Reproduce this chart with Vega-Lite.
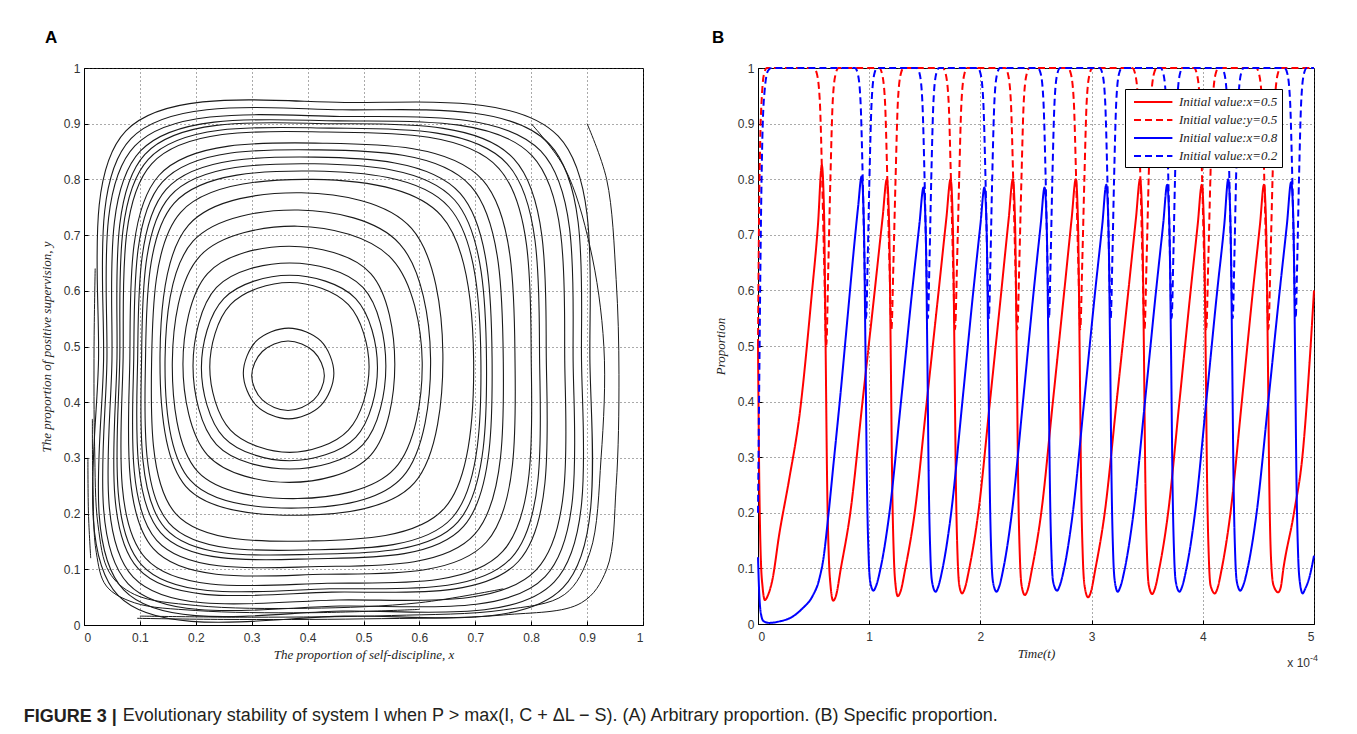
{
"$schema": "https://vega.github.io/schema/vega-lite/v6.json",
"background": "white",
"padding": {"left": 23, "top": 28, "right": 5, "bottom": 5},
"config": {
 "view": {"stroke": "#000", "strokeWidth": 1},
 "axis": {"domainColor": "#000", "tickColor": "#000", "tickSize": -4, "labelPadding": 8, "labelFont": "Liberation Sans", "labelFontSize": 12, "labelColor": "#333", "gridColor": "#444", "gridDash": [1, 3], "gridWidth": 1, "gridOpacity": 0.9, "titleFont": "Liberation Serif", "titleFontStyle": "italic", "titleFontWeight": "normal", "titleFontSize": 13, "titleColor": "#222"},
 "axisX": {"labelPadding": 11}
},
"datasets": {
 "rings": [
  {"r":1,"i":1,"x":0.30,"y":0.4475},{"r":1,"i":2,"x":0.319,"y":0.404},{"r":1,"i":3,"x":0.365,"y":0.385},{"r":1,"i":4,"x":0.411,"y":0.404},{"r":1,"i":5,"x":0.43,"y":0.4475},{"r":1,"i":6,"x":0.411,"y":0.491},{"r":1,"i":7,"x":0.365,"y":0.51},{"r":1,"i":8,"x":0.319,"y":0.491},
  {"r":2,"i":1,"x":0.285,"y":0.452},{"r":2,"i":2,"x":0.3085,"y":0.394},{"r":2,"i":3,"x":0.366,"y":0.37},{"r":2,"i":4,"x":0.4235,"y":0.394},{"r":2,"i":5,"x":0.447,"y":0.452},{"r":2,"i":6,"x":0.4235,"y":0.51},{"r":2,"i":7,"x":0.366,"y":0.533},{"r":2,"i":8,"x":0.3085,"y":0.51},
  {"r":3,"i":1,"x":0.225,"y":0.463},{"r":3,"i":2,"x":0.262,"y":0.35},{"r":3,"i":3,"x":0.368,"y":0.31},{"r":3,"i":4,"x":0.473,"y":0.35},{"r":3,"i":5,"x":0.51,"y":0.463},{"r":3,"i":6,"x":0.473,"y":0.575},{"r":3,"i":7,"x":0.368,"y":0.615},{"r":3,"i":8,"x":0.262,"y":0.575},
  {"r":4,"i":1,"x":0.21,"y":0.462},{"r":4,"i":2,"x":0.25,"y":0.337},{"r":4,"i":3,"x":0.368,"y":0.295},{"r":4,"i":4,"x":0.486,"y":0.337},{"r":4,"i":5,"x":0.525,"y":0.462},{"r":4,"i":6,"x":0.486,"y":0.586},{"r":4,"i":7,"x":0.368,"y":0.628},{"r":4,"i":8,"x":0.25,"y":0.586},
  {"r":5,"i":1,"x":0.195,"y":0.465},{"r":5,"i":2,"x":0.237,"y":0.324},{"r":5,"i":3,"x":0.368,"y":0.28},{"r":5,"i":4,"x":0.499,"y":0.324},{"r":5,"i":5,"x":0.54,"y":0.465},{"r":5,"i":6,"x":0.499,"y":0.606},{"r":5,"i":7,"x":0.368,"y":0.65},{"r":5,"i":8,"x":0.237,"y":0.606},
  {"r":6,"i":1,"x":0.177,"y":0.468},{"r":6,"i":2,"x":0.221,"y":0.305},{"r":6,"i":3,"x":0.367,"y":0.256},{"r":6,"i":4,"x":0.513,"y":0.305},{"r":6,"i":5,"x":0.556,"y":0.468},{"r":6,"i":6,"x":0.513,"y":0.631},{"r":6,"i":7,"x":0.367,"y":0.68},{"r":6,"i":8,"x":0.221,"y":0.631},
  {"r":7,"i":1,"x":0.158,"y":0.472},{"r":7,"i":2,"x":0.203,"y":0.276},{"r":7,"i":3,"x":0.382,"y":0.227},{"r":7,"i":4,"x":0.556,"y":0.281},{"r":7,"i":5,"x":0.605,"y":0.472},{"r":7,"i":6,"x":0.551,"y":0.657},{"r":7,"i":7,"x":0.382,"y":0.716},{"r":7,"i":8,"x":0.207,"y":0.662},
  {"r":8,"i":1,"x":0.145,"y":0.478},{"r":8,"i":2,"x":0.19,"y":0.26},{"r":8,"i":3,"x":0.383,"y":0.21},{"r":8,"i":4,"x":0.57,"y":0.266},{"r":8,"i":5,"x":0.62,"y":0.478},{"r":8,"i":6,"x":0.565,"y":0.684},{"r":8,"i":7,"x":0.383,"y":0.745},{"r":8,"i":8,"x":0.195,"y":0.689},
  {"r":9,"i":1,"x":0.136,"y":0.487},{"r":9,"i":2,"x":0.182,"y":0.249},{"r":9,"i":3,"x":0.389,"y":0.197},{"r":9,"i":4,"x":0.591,"y":0.255},{"r":9,"i":5,"x":0.642,"y":0.487},{"r":9,"i":6,"x":0.586,"y":0.712},{"r":9,"i":7,"x":0.389,"y":0.776},{"r":9,"i":8,"x":0.187,"y":0.718},
  {"r":10,"i":1,"x":0.121,"y":0.476},{"r":10,"i":2,"x":0.164,"y":0.2},{"r":10,"i":3,"x":0.409,"y":0.151},{"r":10,"i":4,"x":0.645,"y":0.21},{"r":10,"i":5,"x":0.697,"y":0.476},{"r":10,"i":6,"x":0.639,"y":0.735},{"r":10,"i":7,"x":0.409,"y":0.80},{"r":10,"i":8,"x":0.173,"y":0.741},
  {"r":11,"i":1,"x":0.11,"y":0.475},{"r":11,"i":2,"x":0.152,"y":0.183},{"r":11,"i":3,"x":0.41,"y":0.135},{"r":11,"i":4,"x":0.659,"y":0.193},{"r":11,"i":5,"x":0.71,"y":0.475},{"r":11,"i":6,"x":0.653,"y":0.75},{"r":11,"i":7,"x":0.41,"y":0.815},{"r":11,"i":8,"x":0.161,"y":0.757},
  {"r":12,"i":1,"x":0.096,"y":0.48},{"r":12,"i":2,"x":0.137,"y":0.166},{"r":12,"i":3,"x":0.413,"y":0.119},{"r":12,"i":4,"x":0.679,"y":0.177},{"r":12,"i":5,"x":0.73,"y":0.48},{"r":12,"i":6,"x":0.673,"y":0.775},{"r":12,"i":7,"x":0.413,"y":0.84},{"r":12,"i":8,"x":0.147,"y":0.782},
  {"r":13,"i":1,"x":0.082,"y":0.478},{"r":13,"i":2,"x":0.124,"y":0.137},{"r":13,"i":3,"x":0.427,"y":0.091},{"r":13,"i":4,"x":0.72,"y":0.149},{"r":13,"i":5,"x":0.771,"y":0.478},{"r":13,"i":6,"x":0.713,"y":0.799},{"r":13,"i":7,"x":0.427,"y":0.865},{"r":13,"i":8,"x":0.134,"y":0.807},
  {"r":14,"i":1,"x":0.07,"y":0.48},{"r":14,"i":2,"x":0.11,"y":0.12},{"r":14,"i":3,"x":0.435,"y":0.075},{"r":14,"i":4,"x":0.749,"y":0.132},{"r":14,"i":5,"x":0.80,"y":0.48},{"r":14,"i":6,"x":0.742,"y":0.82},{"r":14,"i":7,"x":0.435,"y":0.885},{"r":14,"i":8,"x":0.121,"y":0.828},
  {"r":15,"i":1,"x":0.059,"y":0.48},{"r":15,"i":2,"x":0.097,"y":0.101},{"r":15,"i":3,"x":0.443,"y":0.059},{"r":15,"i":4,"x":0.777,"y":0.114},{"r":15,"i":5,"x":0.827,"y":0.48},{"r":15,"i":6,"x":0.769,"y":0.837},{"r":15,"i":7,"x":0.443,"y":0.90},{"r":15,"i":8,"x":0.109,"y":0.845},
  {"r":16,"i":1,"x":0.05,"y":0.475},{"r":16,"i":2,"x":0.088,"y":0.086},{"r":16,"i":3,"x":0.455,"y":0.045},{"r":16,"i":4,"x":0.809,"y":0.099},{"r":16,"i":5,"x":0.86,"y":0.475},{"r":16,"i":6,"x":0.801,"y":0.843},{"r":16,"i":7,"x":0.455,"y":0.905},{"r":16,"i":8,"x":0.101,"y":0.851},
  {"r":17,"i":1,"x":0.041,"y":0.474},{"r":17,"i":2,"x":0.079,"y":0.074},{"r":17,"i":3,"x":0.458,"y":0.034},{"r":17,"i":4,"x":0.825,"y":0.087},{"r":17,"i":5,"x":0.875,"y":0.474},{"r":17,"i":6,"x":0.817,"y":0.851},{"r":17,"i":7,"x":0.458,"y":0.913},{"r":17,"i":8,"x":0.091,"y":0.86},
  {"r":18,"i":1,"x":0.026,"y":0.477},{"r":18,"i":2,"x":0.061,"y":0.053},{"r":18,"i":3,"x":0.466,"y":0.016},{"r":18,"i":4,"x":0.857,"y":0.067},{"r":18,"i":5,"x":0.905,"y":0.477},{"r":18,"i":6,"x":0.848,"y":0.878},{"r":18,"i":7,"x":0.466,"y":0.938},{"r":18,"i":8,"x":0.075,"y":0.887},
  {"r":19,"i":1,"x":0.089,"y":0.479},{"r":19,"i":2,"x":0.13,"y":0.152},{"r":19,"i":3,"x":0.42,"y":0.105},{"r":19,"i":4,"x":0.699,"y":0.163},{"r":19,"i":5,"x":0.75,"y":0.479},{"r":19,"i":6,"x":0.692,"y":0.788},{"r":19,"i":7,"x":0.42,"y":0.853},{"r":19,"i":8,"x":0.14,"y":0.795},
  {"r":20,"i":1,"x":0.035,"y":0.475},{"r":20,"i":2,"x":0.071,"y":0.063},{"r":20,"i":3,"x":0.4625,"y":0.025},{"r":20,"i":4,"x":0.841,"y":0.077},{"r":20,"i":5,"x":0.89,"y":0.475},{"r":20,"i":6,"x":0.832,"y":0.864},{"r":20,"i":7,"x":0.4625,"y":0.925},{"r":20,"i":8,"x":0.084,"y":0.873},
  {"r":21,"i":1,"x":0.064,"y":0.479},{"r":21,"i":2,"x":0.103,"y":0.108},{"r":21,"i":3,"x":0.44,"y":0.065},{"r":21,"i":4,"x":0.765,"y":0.121},{"r":21,"i":5,"x":0.815,"y":0.479},{"r":21,"i":6,"x":0.757,"y":0.828},{"r":21,"i":7,"x":0.44,"y":0.892},{"r":21,"i":8,"x":0.115,"y":0.836},
  {"r":22,"i":1,"x":0.103,"y":0.478},{"r":22,"i":2,"x":0.145,"y":0.174},{"r":22,"i":3,"x":0.412,"y":0.127},{"r":22,"i":4,"x":0.669,"y":0.185},{"r":22,"i":5,"x":0.72,"y":0.478},{"r":22,"i":6,"x":0.663,"y":0.763},{"r":22,"i":7,"x":0.412,"y":0.828},{"r":22,"i":8,"x":0.154,"y":0.77}
 ],
 "open": [
  {"r":1,"i":1,"x":0.80,"y":0.90},{"r":1,"i":2,"x":0.86,"y":0.82},{"r":1,"i":3,"x":0.905,"y":0.68},{"r":1,"i":4,"x":0.93,"y":0.50},{"r":1,"i":5,"x":0.925,"y":0.30},{"r":1,"i":6,"x":0.905,"y":0.13},{"r":1,"i":7,"x":0.86,"y":0.055},{"r":1,"i":8,"x":0.75,"y":0.027},{"r":1,"i":9,"x":0.55,"y":0.017},{"r":1,"i":10,"x":0.30,"y":0.014},{"r":1,"i":11,"x":0.10,"y":0.016},
  {"r":2,"i":1,"x":0.90,"y":0.90},{"r":2,"i":2,"x":0.935,"y":0.80},{"r":2,"i":3,"x":0.952,"y":0.62},{"r":2,"i":4,"x":0.957,"y":0.45},{"r":2,"i":5,"x":0.952,"y":0.25},{"r":2,"i":6,"x":0.935,"y":0.10},{"r":2,"i":7,"x":0.89,"y":0.04},{"r":2,"i":8,"x":0.75,"y":0.018},{"r":2,"i":9,"x":0.50,"y":0.011},{"r":2,"i":10,"x":0.25,"y":0.010},{"r":2,"i":11,"x":0.095,"y":0.012},
  {"r":3,"i":1,"x":0.02,"y":0.64},{"r":3,"i":2,"x":0.018,"y":0.50},{"r":3,"i":3,"x":0.019,"y":0.32},{"r":3,"i":4,"x":0.025,"y":0.18},{"r":3,"i":5,"x":0.045,"y":0.095},{"r":3,"i":6,"x":0.09,"y":0.055},{"r":3,"i":7,"x":0.2,"y":0.035},{"r":3,"i":8,"x":0.4,"y":0.03},{"r":3,"i":9,"x":0.6,"y":0.04},{"r":3,"i":10,"x":0.75,"y":0.065},
  {"r":4,"i":1,"x":0.015,"y":0.37},{"r":4,"i":2,"x":0.016,"y":0.25},{"r":4,"i":3,"x":0.022,"y":0.13},{"r":4,"i":4,"x":0.04,"y":0.07},{"r":4,"i":5,"x":0.09,"y":0.04},{"r":4,"i":6,"x":0.2,"y":0.026},{"r":4,"i":7,"x":0.4,"y":0.022},{"r":4,"i":8,"x":0.6,"y":0.028},
  {"r":5,"i":1,"x":0.007,"y":0.30},{"r":5,"i":2,"x":0.008,"y":0.20},{"r":5,"i":3,"x":0.012,"y":0.12}
 ],
 "ts": [
  {"s":"a","t":0,"v":0.5},{"s":"a","t":0.012,"v":0.25},{"s":"a","t":0.025,"v":0.12},{"s":"a","t":0.042,"v":0.065},{"s":"a","t":0.062,"v":0.043},{"s":"a","t":0.09,"v":0.052},{"s":"a","t":0.13,"v":0.08},{"s":"a","t":0.19,"v":0.16},{"s":"a","t":0.28,"v":0.26},{"s":"a","t":0.373,"v":0.375},{"s":"a","t":0.482,"v":0.59},{"s":"a","t":0.54,"v":0.72},{"s":"a","t":0.574,"v":0.825},{"s":"a","t":0.594,"v":0.74},{"s":"a","t":0.608,"v":0.5},{"s":"a","t":0.622,"v":0.25},{"s":"a","t":0.637,"v":0.12},{"s":"a","t":0.652,"v":0.07},{"s":"a","t":0.676,"v":0.042},
  {"s":"a","t":0.70,"v":0.05},{"s":"a","t":0.745,"v":0.10},{"s":"a","t":0.83,"v":0.20},{"s":"a","t":0.94,"v":0.40},{"s":"a","t":1.05,"v":0.60},{"s":"a","t":1.12,"v":0.73},{"s":"a","t":1.159,"v":0.80},{"s":"a","t":1.179,"v":0.72},{"s":"a","t":1.193,"v":0.50},{"s":"a","t":1.207,"v":0.25},{"s":"a","t":1.222,"v":0.12},{"s":"a","t":1.237,"v":0.07},{"s":"a","t":1.257,"v":0.05},
  {"s":"a","t":1.281,"v":0.058},{"s":"a","t":1.325,"v":0.10},{"s":"a","t":1.409,"v":0.20},{"s":"a","t":1.518,"v":0.40},{"s":"a","t":1.625,"v":0.60},{"s":"a","t":1.694,"v":0.73},{"s":"a","t":1.732,"v":0.80},{"s":"a","t":1.752,"v":0.72},{"s":"a","t":1.766,"v":0.50},{"s":"a","t":1.78,"v":0.25},{"s":"a","t":1.795,"v":0.12},{"s":"a","t":1.81,"v":0.07},{"s":"a","t":1.835,"v":0.055},
  {"s":"a","t":1.858,"v":0.063},{"s":"a","t":1.9,"v":0.10},{"s":"a","t":1.981,"v":0.20},{"s":"a","t":2.086,"v":0.40},{"s":"a","t":2.189,"v":0.60},{"s":"a","t":2.255,"v":0.73},{"s":"a","t":2.292,"v":0.80},{"s":"a","t":2.312,"v":0.72},{"s":"a","t":2.326,"v":0.50},{"s":"a","t":2.34,"v":0.25},{"s":"a","t":2.355,"v":0.12},{"s":"a","t":2.37,"v":0.07},{"s":"a","t":2.40,"v":0.052},
  {"s":"a","t":2.423,"v":0.06},{"s":"a","t":2.465,"v":0.10},{"s":"a","t":2.547,"v":0.20},{"s":"a","t":2.652,"v":0.40},{"s":"a","t":2.755,"v":0.60},{"s":"a","t":2.821,"v":0.73},{"s":"a","t":2.858,"v":0.80},{"s":"a","t":2.878,"v":0.72},{"s":"a","t":2.892,"v":0.50},{"s":"a","t":2.906,"v":0.25},{"s":"a","t":2.921,"v":0.12},{"s":"a","t":2.936,"v":0.07},{"s":"a","t":2.968,"v":0.048},
  {"s":"a","t":2.991,"v":0.056},{"s":"a","t":3.035,"v":0.10},{"s":"a","t":3.118,"v":0.20},{"s":"a","t":3.225,"v":0.40},{"s":"a","t":3.331,"v":0.60},{"s":"a","t":3.399,"v":0.73},{"s":"a","t":3.436,"v":0.80},{"s":"a","t":3.456,"v":0.72},{"s":"a","t":3.47,"v":0.50},{"s":"a","t":3.484,"v":0.25},{"s":"a","t":3.499,"v":0.12},{"s":"a","t":3.514,"v":0.07},{"s":"a","t":3.545,"v":0.054},
  {"s":"a","t":3.567,"v":0.062},{"s":"a","t":3.609,"v":0.10},{"s":"a","t":3.688,"v":0.20},{"s":"a","t":3.79,"v":0.40},{"s":"a","t":3.891,"v":0.60},{"s":"a","t":3.955,"v":0.72},{"s":"a","t":3.991,"v":0.79},{"s":"a","t":4.011,"v":0.71},{"s":"a","t":4.025,"v":0.50},{"s":"a","t":4.039,"v":0.25},{"s":"a","t":4.054,"v":0.12},{"s":"a","t":4.069,"v":0.07},{"s":"a","t":4.108,"v":0.055},
  {"s":"a","t":4.13,"v":0.063},{"s":"a","t":4.171,"v":0.10},{"s":"a","t":4.249,"v":0.20},{"s":"a","t":4.351,"v":0.40},{"s":"a","t":4.451,"v":0.60},{"s":"a","t":4.515,"v":0.72},{"s":"a","t":4.55,"v":0.79},{"s":"a","t":4.57,"v":0.71},{"s":"a","t":4.584,"v":0.50},{"s":"a","t":4.598,"v":0.25},{"s":"a","t":4.613,"v":0.12},{"s":"a","t":4.635,"v":0.07},{"s":"a","t":4.678,"v":0.057},
  {"s":"a","t":4.70,"v":0.065},{"s":"a","t":4.725,"v":0.10},{"s":"a","t":4.82,"v":0.20},{"s":"a","t":4.90,"v":0.31},{"s":"a","t":4.96,"v":0.47},{"s":"a","t":5.0,"v":0.60},

  {"s":"b","t":0,"v":0.5},{"s":"b","t":0.008,"v":0.70},{"s":"b","t":0.02,"v":0.87},{"s":"b","t":0.035,"v":0.95},{"s":"b","t":0.055,"v":0.99},{"s":"b","t":0.08,"v":1.0},
  {"s":"b","t":0.504,"v":1.0},{"s":"b","t":0.529,"v":0.99},{"s":"b","t":0.556,"v":0.94},{"s":"b","t":0.577,"v":0.80},{"s":"b","t":0.596,"v":0.64},{"s":"b","t":0.614,"v":0.50},{"s":"b","t":0.632,"v":0.64},{"s":"b","t":0.651,"v":0.80},{"s":"b","t":0.672,"v":0.94},{"s":"b","t":0.699,"v":0.99},{"s":"b","t":0.724,"v":1.0},
  {"s":"b","t":1.09,"v":1.0},{"s":"b","t":1.115,"v":0.99},{"s":"b","t":1.142,"v":0.94},{"s":"b","t":1.163,"v":0.80},{"s":"b","t":1.182,"v":0.65},{"s":"b","t":1.20,"v":0.53},{"s":"b","t":1.218,"v":0.65},{"s":"b","t":1.237,"v":0.80},{"s":"b","t":1.258,"v":0.94},{"s":"b","t":1.285,"v":0.99},{"s":"b","t":1.31,"v":1.0},
  {"s":"b","t":1.662,"v":1.0},{"s":"b","t":1.687,"v":0.99},{"s":"b","t":1.714,"v":0.94},{"s":"b","t":1.735,"v":0.80},{"s":"b","t":1.754,"v":0.65},{"s":"b","t":1.772,"v":0.53},{"s":"b","t":1.79,"v":0.65},{"s":"b","t":1.809,"v":0.80},{"s":"b","t":1.83,"v":0.94},{"s":"b","t":1.857,"v":0.99},{"s":"b","t":1.882,"v":1.0},
  {"s":"b","t":2.222,"v":1.0},{"s":"b","t":2.247,"v":0.99},{"s":"b","t":2.274,"v":0.94},{"s":"b","t":2.295,"v":0.80},{"s":"b","t":2.314,"v":0.65},{"s":"b","t":2.332,"v":0.53},{"s":"b","t":2.35,"v":0.65},{"s":"b","t":2.369,"v":0.80},{"s":"b","t":2.39,"v":0.94},{"s":"b","t":2.417,"v":0.99},{"s":"b","t":2.442,"v":1.0},
  {"s":"b","t":2.788,"v":1.0},{"s":"b","t":2.813,"v":0.99},{"s":"b","t":2.84,"v":0.94},{"s":"b","t":2.861,"v":0.80},{"s":"b","t":2.88,"v":0.65},{"s":"b","t":2.898,"v":0.53},{"s":"b","t":2.916,"v":0.65},{"s":"b","t":2.935,"v":0.80},{"s":"b","t":2.956,"v":0.94},{"s":"b","t":2.983,"v":0.99},{"s":"b","t":3.008,"v":1.0},
  {"s":"b","t":3.366,"v":1.0},{"s":"b","t":3.391,"v":0.99},{"s":"b","t":3.418,"v":0.94},{"s":"b","t":3.439,"v":0.80},{"s":"b","t":3.458,"v":0.65},{"s":"b","t":3.476,"v":0.53},{"s":"b","t":3.494,"v":0.65},{"s":"b","t":3.513,"v":0.80},{"s":"b","t":3.534,"v":0.94},{"s":"b","t":3.561,"v":0.99},{"s":"b","t":3.586,"v":1.0},
  {"s":"b","t":3.921,"v":1.0},{"s":"b","t":3.946,"v":0.99},{"s":"b","t":3.973,"v":0.94},{"s":"b","t":3.994,"v":0.80},{"s":"b","t":4.013,"v":0.65},{"s":"b","t":4.031,"v":0.53},{"s":"b","t":4.049,"v":0.65},{"s":"b","t":4.068,"v":0.80},{"s":"b","t":4.089,"v":0.94},{"s":"b","t":4.116,"v":0.99},{"s":"b","t":4.141,"v":1.0},
  {"s":"b","t":4.48,"v":1.0},{"s":"b","t":4.505,"v":0.99},{"s":"b","t":4.532,"v":0.94},{"s":"b","t":4.553,"v":0.80},{"s":"b","t":4.572,"v":0.65},{"s":"b","t":4.59,"v":0.53},{"s":"b","t":4.608,"v":0.65},{"s":"b","t":4.627,"v":0.80},{"s":"b","t":4.648,"v":0.94},{"s":"b","t":4.675,"v":0.99},{"s":"b","t":4.70,"v":1.0},
  {"s":"b","t":5.0,"v":1.0},

  {"s":"c","t":0,"v":0.12},{"s":"c","t":0.01,"v":0.06},{"s":"c","t":0.025,"v":0.02},{"s":"c","t":0.05,"v":0.005},{"s":"c","t":0.1,"v":0.002},{"s":"c","t":0.2,"v":0.005},{"s":"c","t":0.3,"v":0.012},{"s":"c","t":0.4,"v":0.028},{"s":"c","t":0.49,"v":0.05},{"s":"c","t":0.55,"v":0.08},{"s":"c","t":0.59,"v":0.12},{"s":"c","t":0.63,"v":0.19},{"s":"c","t":0.68,"v":0.29},{"s":"c","t":0.74,"v":0.41},{"s":"c","t":0.80,"v":0.54},{"s":"c","t":0.86,"v":0.67},{"s":"c","t":0.90,"v":0.75},{"s":"c","t":0.932,"v":0.805},{"s":"c","t":0.952,"v":0.72},{"s":"c","t":0.966,"v":0.50},{"s":"c","t":0.98,"v":0.25},{"s":"c","t":0.995,"v":0.12},{"s":"c","t":1.01,"v":0.075},{"s":"c","t":1.038,"v":0.06},
  {"s":"c","t":1.061,"v":0.068},{"s":"c","t":1.102,"v":0.10},{"s":"c","t":1.182,"v":0.20},{"s":"c","t":1.286,"v":0.40},{"s":"c","t":1.387,"v":0.60},{"s":"c","t":1.452,"v":0.72},{"s":"c","t":1.488,"v":0.785},{"s":"c","t":1.508,"v":0.71},{"s":"c","t":1.522,"v":0.50},{"s":"c","t":1.536,"v":0.25},{"s":"c","t":1.551,"v":0.12},{"s":"c","t":1.566,"v":0.075},{"s":"c","t":1.597,"v":0.058},
  {"s":"c","t":1.619,"v":0.066},{"s":"c","t":1.66,"v":0.10},{"s":"c","t":1.737,"v":0.20},{"s":"c","t":1.838,"v":0.40},{"s":"c","t":1.937,"v":0.60},{"s":"c","t":2.001,"v":0.72},{"s":"c","t":2.036,"v":0.785},{"s":"c","t":2.056,"v":0.71},{"s":"c","t":2.07,"v":0.50},{"s":"c","t":2.084,"v":0.25},{"s":"c","t":2.099,"v":0.12},{"s":"c","t":2.114,"v":0.075},{"s":"c","t":2.145,"v":0.058},
  {"s":"c","t":2.167,"v":0.066},{"s":"c","t":2.207,"v":0.10},{"s":"c","t":2.283,"v":0.20},{"s":"c","t":2.383,"v":0.40},{"s":"c","t":2.48,"v":0.60},{"s":"c","t":2.543,"v":0.72},{"s":"c","t":2.577,"v":0.785},{"s":"c","t":2.597,"v":0.71},{"s":"c","t":2.611,"v":0.50},{"s":"c","t":2.625,"v":0.25},{"s":"c","t":2.64,"v":0.12},{"s":"c","t":2.655,"v":0.075},{"s":"c","t":2.69,"v":0.06},
  {"s":"c","t":2.712,"v":0.068},{"s":"c","t":2.753,"v":0.10},{"s":"c","t":2.831,"v":0.20},{"s":"c","t":2.933,"v":0.40},{"s":"c","t":3.033,"v":0.60},{"s":"c","t":3.097,"v":0.72},{"s":"c","t":3.132,"v":0.79},{"s":"c","t":3.152,"v":0.71},{"s":"c","t":3.166,"v":0.50},{"s":"c","t":3.18,"v":0.25},{"s":"c","t":3.195,"v":0.12},{"s":"c","t":3.21,"v":0.075},{"s":"c","t":3.235,"v":0.058},
  {"s":"c","t":3.257,"v":0.066},{"s":"c","t":3.299,"v":0.10},{"s":"c","t":3.377,"v":0.20},{"s":"c","t":3.48,"v":0.40},{"s":"c","t":3.58,"v":0.60},{"s":"c","t":3.644,"v":0.72},{"s":"c","t":3.68,"v":0.79},{"s":"c","t":3.70,"v":0.71},{"s":"c","t":3.714,"v":0.50},{"s":"c","t":3.728,"v":0.25},{"s":"c","t":3.743,"v":0.12},{"s":"c","t":3.758,"v":0.075},{"s":"c","t":3.79,"v":0.058},
  {"s":"c","t":3.812,"v":0.066},{"s":"c","t":3.853,"v":0.10},{"s":"c","t":3.93,"v":0.20},{"s":"c","t":4.031,"v":0.40},{"s":"c","t":4.13,"v":0.60},{"s":"c","t":4.194,"v":0.72},{"s":"c","t":4.229,"v":0.80},{"s":"c","t":4.249,"v":0.72},{"s":"c","t":4.263,"v":0.50},{"s":"c","t":4.277,"v":0.25},{"s":"c","t":4.292,"v":0.12},{"s":"c","t":4.307,"v":0.075},{"s":"c","t":4.338,"v":0.06},
  {"s":"c","t":4.361,"v":0.068},{"s":"c","t":4.403,"v":0.10},{"s":"c","t":4.484,"v":0.20},{"s":"c","t":4.589,"v":0.40},{"s":"c","t":4.692,"v":0.60},{"s":"c","t":4.757,"v":0.72},{"s":"c","t":4.795,"v":0.795},{"s":"c","t":4.815,"v":0.72},{"s":"c","t":4.829,"v":0.50},{"s":"c","t":4.843,"v":0.25},{"s":"c","t":4.858,"v":0.12},{"s":"c","t":4.873,"v":0.075},{"s":"c","t":4.898,"v":0.055},
  {"s":"c","t":4.92,"v":0.063},{"s":"c","t":4.96,"v":0.085},{"s":"c","t":5.0,"v":0.123},

  {"s":"d","t":0,"v":0.2},{"s":"d","t":0.012,"v":0.45},{"s":"d","t":0.025,"v":0.70},{"s":"d","t":0.04,"v":0.88},{"s":"d","t":0.06,"v":0.96},{"s":"d","t":0.09,"v":0.995},{"s":"d","t":0.12,"v":1.0},
  {"s":"d","t":0.872,"v":1.0},{"s":"d","t":0.897,"v":0.99},{"s":"d","t":0.922,"v":0.94},{"s":"d","t":0.942,"v":0.80},{"s":"d","t":0.957,"v":0.66},{"s":"d","t":0.972,"v":0.55},{"s":"d","t":0.987,"v":0.66},{"s":"d","t":1.002,"v":0.80},{"s":"d","t":1.022,"v":0.94},{"s":"d","t":1.047,"v":0.99},{"s":"d","t":1.072,"v":1.0},
  {"s":"d","t":1.428,"v":1.0},{"s":"d","t":1.453,"v":0.99},{"s":"d","t":1.478,"v":0.94},{"s":"d","t":1.498,"v":0.80},{"s":"d","t":1.513,"v":0.66},{"s":"d","t":1.528,"v":0.55},{"s":"d","t":1.543,"v":0.66},{"s":"d","t":1.558,"v":0.80},{"s":"d","t":1.578,"v":0.94},{"s":"d","t":1.603,"v":0.99},{"s":"d","t":1.628,"v":1.0},
  {"s":"d","t":1.976,"v":1.0},{"s":"d","t":2.001,"v":0.99},{"s":"d","t":2.026,"v":0.94},{"s":"d","t":2.046,"v":0.80},{"s":"d","t":2.061,"v":0.66},{"s":"d","t":2.076,"v":0.55},{"s":"d","t":2.091,"v":0.66},{"s":"d","t":2.106,"v":0.80},{"s":"d","t":2.126,"v":0.94},{"s":"d","t":2.151,"v":0.99},{"s":"d","t":2.176,"v":1.0},
  {"s":"d","t":2.517,"v":1.0},{"s":"d","t":2.542,"v":0.99},{"s":"d","t":2.567,"v":0.94},{"s":"d","t":2.587,"v":0.80},{"s":"d","t":2.602,"v":0.66},{"s":"d","t":2.617,"v":0.55},{"s":"d","t":2.632,"v":0.66},{"s":"d","t":2.647,"v":0.80},{"s":"d","t":2.667,"v":0.94},{"s":"d","t":2.692,"v":0.99},{"s":"d","t":2.717,"v":1.0},
  {"s":"d","t":3.072,"v":1.0},{"s":"d","t":3.097,"v":0.99},{"s":"d","t":3.122,"v":0.94},{"s":"d","t":3.142,"v":0.80},{"s":"d","t":3.157,"v":0.66},{"s":"d","t":3.172,"v":0.55},{"s":"d","t":3.187,"v":0.66},{"s":"d","t":3.202,"v":0.80},{"s":"d","t":3.222,"v":0.94},{"s":"d","t":3.247,"v":0.99},{"s":"d","t":3.272,"v":1.0},
  {"s":"d","t":3.62,"v":1.0},{"s":"d","t":3.645,"v":0.99},{"s":"d","t":3.67,"v":0.94},{"s":"d","t":3.69,"v":0.80},{"s":"d","t":3.705,"v":0.66},{"s":"d","t":3.72,"v":0.55},{"s":"d","t":3.735,"v":0.66},{"s":"d","t":3.75,"v":0.80},{"s":"d","t":3.77,"v":0.94},{"s":"d","t":3.795,"v":0.99},{"s":"d","t":3.82,"v":1.0},
  {"s":"d","t":4.169,"v":1.0},{"s":"d","t":4.194,"v":0.99},{"s":"d","t":4.219,"v":0.94},{"s":"d","t":4.239,"v":0.80},{"s":"d","t":4.254,"v":0.66},{"s":"d","t":4.269,"v":0.55},{"s":"d","t":4.284,"v":0.66},{"s":"d","t":4.299,"v":0.80},{"s":"d","t":4.319,"v":0.94},{"s":"d","t":4.344,"v":0.99},{"s":"d","t":4.369,"v":1.0},
  {"s":"d","t":4.735,"v":1.0},{"s":"d","t":4.76,"v":0.99},{"s":"d","t":4.785,"v":0.94},{"s":"d","t":4.805,"v":0.80},{"s":"d","t":4.82,"v":0.66},{"s":"d","t":4.835,"v":0.55},{"s":"d","t":4.85,"v":0.66},{"s":"d","t":4.865,"v":0.80},{"s":"d","t":4.885,"v":0.94},{"s":"d","t":4.91,"v":0.99},{"s":"d","t":4.935,"v":1.0},
  {"s":"d","t":5.0,"v":1.0}
 ]
},
"title": {"text": "FIGURE 3 |", "orient": "bottom", "anchor": "start", "frame": "bounds", "font": "Liberation Sans", "fontSize": 18, "fontWeight": "bold", "color": "#231f20", "offset": -17, "dx": -16},
"vconcat": [
 {
  "title": {"text": "Evolutionary stability of system I when P > max(I, C + ΔL − S). (A) Arbitrary proportion. (B) Specific proportion.", "orient": "bottom", "anchor": "start", "frame": "bounds", "font": "Liberation Sans", "fontSize": 18, "fontWeight": "normal", "color": "#231f20", "offset": 37, "dx": 83},
  "spacing": 67,
  "resolve": {"legend": {"color": "independent", "strokeDash": "independent"}},
  "hconcat": [
   {
    "width": 559, "height": 557,
    "title": {"text": "A", "anchor": "start", "frame": "group", "dx": -39, "offset": 15, "fontSize": 17, "fontWeight": "bold", "font": "Liberation Sans", "color": "#000"},
    "encoding": {
     "x": {"field": "x", "type": "quantitative", "scale": {"domain": [0, 1], "nice": false}, "axis": {"values": [0, 0.1, 0.2, 0.3, 0.4, 0.5, 0.6, 0.7, 0.8, 0.9, 1], "format": "~g", "title": "The proportion of self-discipline,  x", "titlePadding": 5}},
     "y": {"field": "y", "type": "quantitative", "scale": {"domain": [0, 1], "nice": false}, "axis": {"values": [0, 0.1, 0.2, 0.3, 0.4, 0.5, 0.6, 0.7, 0.8, 0.9, 1], "format": "~g", "title": "The proportion of positive supervision, y", "titlePadding": 10}}
    },
    "layer": [
     {"data": {"name": "rings"}, "mark": {"type": "line", "interpolate": "cardinal-closed", "strokeWidth": 1.1, "color": "#1a1a1a"}, "encoding": {"detail": {"field": "r", "type": "nominal"}, "order": {"field": "i", "type": "quantitative"}}},
     {"data": {"name": "open"}, "mark": {"type": "line", "interpolate": "catmull-rom", "strokeWidth": 1, "color": "#1a1a1a"}, "encoding": {"detail": {"field": "r", "type": "nominal"}, "order": {"field": "i", "type": "quantitative"}}}
    ]
   },
   {
    "width": 556, "height": 556,
    "title": {"text": "B", "anchor": "start", "frame": "group", "dx": -46, "offset": 15, "fontSize": 17, "fontWeight": "bold", "font": "Liberation Sans", "color": "#000"},
    "layer": [
     {"data": {"name": "ts"},
      "mark": {"type": "line", "interpolate": "monotone", "strokeWidth": 2},
      "encoding": {
       "x": {"field": "t", "type": "quantitative", "scale": {"domain": [0, 5], "nice": false}, "axis": {"values": [0, 1, 2, 3, 4, 5], "format": "d", "title": "Time(t)", "titlePadding": 5}},
       "y": {"field": "v", "type": "quantitative", "scale": {"domain": [0, 1], "nice": false}, "axis": {"values": [0, 0.1, 0.2, 0.3, 0.4, 0.5, 0.6, 0.7, 0.8, 0.9, 1], "format": "~g", "title": "Proportion", "titlePadding": 10}},
       "color": {"field": "s", "type": "nominal", "scale": {"domain": ["a", "b", "c", "d"], "range": ["#ff0000", "#ff0000", "#0000ff", "#0000ff"]},
        "legend": {"orient": "none", "legendX": 367, "legendY": 21, "title": null, "fillColor": "white", "strokeColor": "black", "padding": 4, "symbolType": "M-0.5,0H4.3", "symbolSize": 256, "symbolStrokeWidth": 2, "symbolOffset": 0, "labelOffset": 32, "labelFont": "Liberation Serif", "labelFontStyle": "italic", "labelFontSize": 13, "labelColor": "#222", "rowPadding": 2, "labelExpr": "datum.label == 'a' ? 'Initial value:x=0.5' : datum.label == 'b' ? 'Initial value:y=0.5' : datum.label == 'c' ? 'Initial value:x=0.8' : 'Initial value:x=0.2'"}},
       "strokeDash": {"field": "s", "type": "nominal", "scale": {"domain": ["a", "b", "c", "d"], "range": [[1, 0], [7, 4], [1, 0], [7, 4]]},
        "legend": {"orient": "none", "legendX": 367, "legendY": 21, "title": null, "fillColor": "white", "strokeColor": "black", "padding": 4, "symbolType": "M-0.5,0H4.3", "symbolSize": 256, "symbolStrokeWidth": 2, "symbolOffset": 0, "labelOffset": 32, "labelFont": "Liberation Serif", "labelFontStyle": "italic", "labelFontSize": 13, "labelColor": "#222", "rowPadding": 2, "labelExpr": "datum.label == 'a' ? 'Initial value:x=0.5' : datum.label == 'b' ? 'Initial value:y=0.5' : datum.label == 'c' ? 'Initial value:x=0.8' : 'Initial value:x=0.2'"}}
      }
     },
     {"data": {"values": [{}]}, "mark": {"type": "text", "align": "right", "baseline": "alphabetic", "font": "Liberation Sans", "fontSize": 12, "color": "#333", "dx": -4, "dy": 43, "text": "x 10"}, "encoding": {"x": {"datum": 5, "type": "quantitative"}, "y": {"datum": 0, "type": "quantitative"}}},
     {"data": {"values": [{}]}, "mark": {"type": "text", "align": "left", "baseline": "alphabetic", "font": "Liberation Sans", "fontSize": 9, "color": "#333", "dx": -4, "dy": 37, "text": "-4"}, "encoding": {"x": {"datum": 5, "type": "quantitative"}, "y": {"datum": 0, "type": "quantitative"}}}
    ]
   }
  ]
 }
]
}
